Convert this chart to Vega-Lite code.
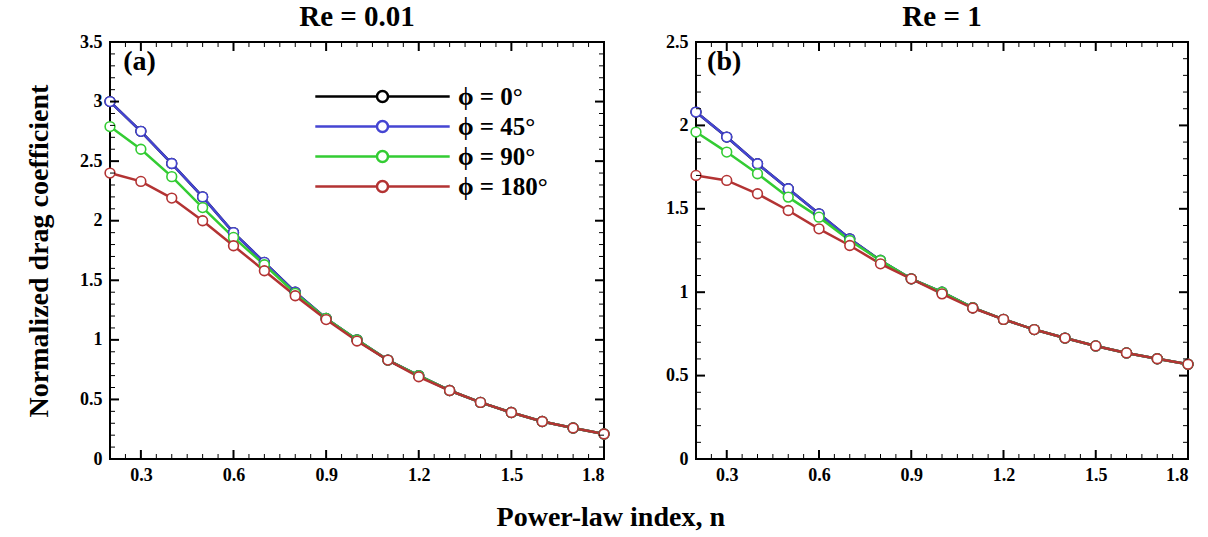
{
  "$schema": "https://vega.github.io/schema/vega-lite/v6.json",
  "background": "white",
  "padding": {"left": 24, "top": 2, "right": 10, "bottom": 5},
  "title": {"text": "Power-law index, n", "orient": "bottom", "anchor": "middle", "fontSize": 28, "font": "Liberation Serif", "fontWeight": "bold", "color": "black", "offset": 19},
  "spacing": 50,
  "resolve": {"scale": {"x": "independent", "y": "independent", "color": "independent", "stroke": "independent"}},
  "datasets": {
    "re001": [
      {"n": 0.2, "phi": "ϕ = 0°", "cd": 3.00}, {"n": 0.3, "phi": "ϕ = 0°", "cd": 2.75}, {"n": 0.4, "phi": "ϕ = 0°", "cd": 2.48}, {"n": 0.5, "phi": "ϕ = 0°", "cd": 2.20}, {"n": 0.6, "phi": "ϕ = 0°", "cd": 1.90}, {"n": 0.7, "phi": "ϕ = 0°", "cd": 1.65}, {"n": 0.8, "phi": "ϕ = 0°", "cd": 1.40}, {"n": 0.9, "phi": "ϕ = 0°", "cd": 1.18}, {"n": 1.0, "phi": "ϕ = 0°", "cd": 1.00}, {"n": 1.1, "phi": "ϕ = 0°", "cd": 0.83}, {"n": 1.2, "phi": "ϕ = 0°", "cd": 0.70}, {"n": 1.3, "phi": "ϕ = 0°", "cd": 0.575}, {"n": 1.4, "phi": "ϕ = 0°", "cd": 0.475}, {"n": 1.5, "phi": "ϕ = 0°", "cd": 0.39}, {"n": 1.6, "phi": "ϕ = 0°", "cd": 0.315}, {"n": 1.7, "phi": "ϕ = 0°", "cd": 0.26}, {"n": 1.8, "phi": "ϕ = 0°", "cd": 0.21},
      {"n": 0.2, "phi": "ϕ = 45°", "cd": 3.00}, {"n": 0.3, "phi": "ϕ = 45°", "cd": 2.75}, {"n": 0.4, "phi": "ϕ = 45°", "cd": 2.48}, {"n": 0.5, "phi": "ϕ = 45°", "cd": 2.20}, {"n": 0.6, "phi": "ϕ = 45°", "cd": 1.90}, {"n": 0.7, "phi": "ϕ = 45°", "cd": 1.65}, {"n": 0.8, "phi": "ϕ = 45°", "cd": 1.40}, {"n": 0.9, "phi": "ϕ = 45°", "cd": 1.18}, {"n": 1.0, "phi": "ϕ = 45°", "cd": 1.00}, {"n": 1.1, "phi": "ϕ = 45°", "cd": 0.83}, {"n": 1.2, "phi": "ϕ = 45°", "cd": 0.70}, {"n": 1.3, "phi": "ϕ = 45°", "cd": 0.575}, {"n": 1.4, "phi": "ϕ = 45°", "cd": 0.475}, {"n": 1.5, "phi": "ϕ = 45°", "cd": 0.39}, {"n": 1.6, "phi": "ϕ = 45°", "cd": 0.315}, {"n": 1.7, "phi": "ϕ = 45°", "cd": 0.26}, {"n": 1.8, "phi": "ϕ = 45°", "cd": 0.21},
      {"n": 0.2, "phi": "ϕ = 90°", "cd": 2.79}, {"n": 0.3, "phi": "ϕ = 90°", "cd": 2.60}, {"n": 0.4, "phi": "ϕ = 90°", "cd": 2.37}, {"n": 0.5, "phi": "ϕ = 90°", "cd": 2.11}, {"n": 0.6, "phi": "ϕ = 90°", "cd": 1.86}, {"n": 0.7, "phi": "ϕ = 90°", "cd": 1.63}, {"n": 0.8, "phi": "ϕ = 90°", "cd": 1.39}, {"n": 0.9, "phi": "ϕ = 90°", "cd": 1.18}, {"n": 1.0, "phi": "ϕ = 90°", "cd": 1.00}, {"n": 1.1, "phi": "ϕ = 90°", "cd": 0.83}, {"n": 1.2, "phi": "ϕ = 90°", "cd": 0.70}, {"n": 1.3, "phi": "ϕ = 90°", "cd": 0.575}, {"n": 1.4, "phi": "ϕ = 90°", "cd": 0.475}, {"n": 1.5, "phi": "ϕ = 90°", "cd": 0.39}, {"n": 1.6, "phi": "ϕ = 90°", "cd": 0.315}, {"n": 1.7, "phi": "ϕ = 90°", "cd": 0.26}, {"n": 1.8, "phi": "ϕ = 90°", "cd": 0.21},
      {"n": 0.2, "phi": "ϕ = 180°", "cd": 2.40}, {"n": 0.3, "phi": "ϕ = 180°", "cd": 2.33}, {"n": 0.4, "phi": "ϕ = 180°", "cd": 2.19}, {"n": 0.5, "phi": "ϕ = 180°", "cd": 2.00}, {"n": 0.6, "phi": "ϕ = 180°", "cd": 1.79}, {"n": 0.7, "phi": "ϕ = 180°", "cd": 1.58}, {"n": 0.8, "phi": "ϕ = 180°", "cd": 1.37}, {"n": 0.9, "phi": "ϕ = 180°", "cd": 1.17}, {"n": 1.0, "phi": "ϕ = 180°", "cd": 0.99}, {"n": 1.1, "phi": "ϕ = 180°", "cd": 0.83}, {"n": 1.2, "phi": "ϕ = 180°", "cd": 0.69}, {"n": 1.3, "phi": "ϕ = 180°", "cd": 0.575}, {"n": 1.4, "phi": "ϕ = 180°", "cd": 0.475}, {"n": 1.5, "phi": "ϕ = 180°", "cd": 0.39}, {"n": 1.6, "phi": "ϕ = 180°", "cd": 0.315}, {"n": 1.7, "phi": "ϕ = 180°", "cd": 0.26}, {"n": 1.8, "phi": "ϕ = 180°", "cd": 0.21}
    ],
    "re1": [
      {"n": 0.2, "phi": "ϕ = 0°", "cd": 2.08}, {"n": 0.3, "phi": "ϕ = 0°", "cd": 1.93}, {"n": 0.4, "phi": "ϕ = 0°", "cd": 1.77}, {"n": 0.5, "phi": "ϕ = 0°", "cd": 1.62}, {"n": 0.6, "phi": "ϕ = 0°", "cd": 1.47}, {"n": 0.7, "phi": "ϕ = 0°", "cd": 1.32}, {"n": 0.8, "phi": "ϕ = 0°", "cd": 1.19}, {"n": 0.9, "phi": "ϕ = 0°", "cd": 1.08}, {"n": 1.0, "phi": "ϕ = 0°", "cd": 1.00}, {"n": 1.1, "phi": "ϕ = 0°", "cd": 0.907}, {"n": 1.2, "phi": "ϕ = 0°", "cd": 0.837}, {"n": 1.3, "phi": "ϕ = 0°", "cd": 0.776}, {"n": 1.4, "phi": "ϕ = 0°", "cd": 0.725}, {"n": 1.5, "phi": "ϕ = 0°", "cd": 0.678}, {"n": 1.6, "phi": "ϕ = 0°", "cd": 0.636}, {"n": 1.7, "phi": "ϕ = 0°", "cd": 0.601}, {"n": 1.8, "phi": "ϕ = 0°", "cd": 0.568},
      {"n": 0.2, "phi": "ϕ = 45°", "cd": 2.08}, {"n": 0.3, "phi": "ϕ = 45°", "cd": 1.93}, {"n": 0.4, "phi": "ϕ = 45°", "cd": 1.77}, {"n": 0.5, "phi": "ϕ = 45°", "cd": 1.62}, {"n": 0.6, "phi": "ϕ = 45°", "cd": 1.47}, {"n": 0.7, "phi": "ϕ = 45°", "cd": 1.32}, {"n": 0.8, "phi": "ϕ = 45°", "cd": 1.19}, {"n": 0.9, "phi": "ϕ = 45°", "cd": 1.08}, {"n": 1.0, "phi": "ϕ = 45°", "cd": 1.00}, {"n": 1.1, "phi": "ϕ = 45°", "cd": 0.907}, {"n": 1.2, "phi": "ϕ = 45°", "cd": 0.837}, {"n": 1.3, "phi": "ϕ = 45°", "cd": 0.776}, {"n": 1.4, "phi": "ϕ = 45°", "cd": 0.725}, {"n": 1.5, "phi": "ϕ = 45°", "cd": 0.678}, {"n": 1.6, "phi": "ϕ = 45°", "cd": 0.636}, {"n": 1.7, "phi": "ϕ = 45°", "cd": 0.601}, {"n": 1.8, "phi": "ϕ = 45°", "cd": 0.568},
      {"n": 0.2, "phi": "ϕ = 90°", "cd": 1.96}, {"n": 0.3, "phi": "ϕ = 90°", "cd": 1.84}, {"n": 0.4, "phi": "ϕ = 90°", "cd": 1.71}, {"n": 0.5, "phi": "ϕ = 90°", "cd": 1.57}, {"n": 0.6, "phi": "ϕ = 90°", "cd": 1.45}, {"n": 0.7, "phi": "ϕ = 90°", "cd": 1.31}, {"n": 0.8, "phi": "ϕ = 90°", "cd": 1.19}, {"n": 0.9, "phi": "ϕ = 90°", "cd": 1.08}, {"n": 1.0, "phi": "ϕ = 90°", "cd": 1.00}, {"n": 1.1, "phi": "ϕ = 90°", "cd": 0.907}, {"n": 1.2, "phi": "ϕ = 90°", "cd": 0.837}, {"n": 1.3, "phi": "ϕ = 90°", "cd": 0.776}, {"n": 1.4, "phi": "ϕ = 90°", "cd": 0.725}, {"n": 1.5, "phi": "ϕ = 90°", "cd": 0.678}, {"n": 1.6, "phi": "ϕ = 90°", "cd": 0.636}, {"n": 1.7, "phi": "ϕ = 90°", "cd": 0.601}, {"n": 1.8, "phi": "ϕ = 90°", "cd": 0.568},
      {"n": 0.2, "phi": "ϕ = 180°", "cd": 1.70}, {"n": 0.3, "phi": "ϕ = 180°", "cd": 1.67}, {"n": 0.4, "phi": "ϕ = 180°", "cd": 1.59}, {"n": 0.5, "phi": "ϕ = 180°", "cd": 1.49}, {"n": 0.6, "phi": "ϕ = 180°", "cd": 1.38}, {"n": 0.7, "phi": "ϕ = 180°", "cd": 1.28}, {"n": 0.8, "phi": "ϕ = 180°", "cd": 1.17}, {"n": 0.9, "phi": "ϕ = 180°", "cd": 1.08}, {"n": 1.0, "phi": "ϕ = 180°", "cd": 0.99}, {"n": 1.1, "phi": "ϕ = 180°", "cd": 0.905}, {"n": 1.2, "phi": "ϕ = 180°", "cd": 0.837}, {"n": 1.3, "phi": "ϕ = 180°", "cd": 0.776}, {"n": 1.4, "phi": "ϕ = 180°", "cd": 0.725}, {"n": 1.5, "phi": "ϕ = 180°", "cd": 0.678}, {"n": 1.6, "phi": "ϕ = 180°", "cd": 0.636}, {"n": 1.7, "phi": "ϕ = 180°", "cd": 0.601}, {"n": 1.8, "phi": "ϕ = 180°", "cd": 0.568}
    ],
    "xt": [
      {"v": 0.2, "kind": "minor"}, {"v": 0.25, "kind": "minor"}, {"v": 0.3, "kind": "major"}, {"v": 0.35, "kind": "minor"}, {"v": 0.4, "kind": "minor"}, {"v": 0.45, "kind": "minor"}, {"v": 0.5, "kind": "minor"}, {"v": 0.55, "kind": "minor"}, {"v": 0.6, "kind": "major"}, {"v": 0.65, "kind": "minor"}, {"v": 0.7, "kind": "minor"}, {"v": 0.75, "kind": "minor"}, {"v": 0.8, "kind": "minor"}, {"v": 0.85, "kind": "minor"}, {"v": 0.9, "kind": "major"}, {"v": 0.95, "kind": "minor"}, {"v": 1.0, "kind": "minor"}, {"v": 1.05, "kind": "minor"}, {"v": 1.1, "kind": "minor"}, {"v": 1.15, "kind": "minor"}, {"v": 1.2, "kind": "major"}, {"v": 1.25, "kind": "minor"}, {"v": 1.3, "kind": "minor"}, {"v": 1.35, "kind": "minor"}, {"v": 1.4, "kind": "minor"}, {"v": 1.45, "kind": "minor"}, {"v": 1.5, "kind": "major"}, {"v": 1.55, "kind": "minor"}, {"v": 1.6, "kind": "minor"}, {"v": 1.65, "kind": "minor"}, {"v": 1.7, "kind": "minor"}, {"v": 1.75, "kind": "minor"}, {"v": 1.8, "kind": "major"}
    ],
    "ytl": [
      {"v": 0, "kind": "major"}, {"v": 0.1, "kind": "minor"}, {"v": 0.2, "kind": "minor"}, {"v": 0.3, "kind": "minor"}, {"v": 0.4, "kind": "minor"}, {"v": 0.5, "kind": "major"}, {"v": 0.6, "kind": "minor"}, {"v": 0.7, "kind": "minor"}, {"v": 0.8, "kind": "minor"}, {"v": 0.9, "kind": "minor"}, {"v": 1.0, "kind": "major"}, {"v": 1.1, "kind": "minor"}, {"v": 1.2, "kind": "minor"}, {"v": 1.3, "kind": "minor"}, {"v": 1.4, "kind": "minor"}, {"v": 1.5, "kind": "major"}, {"v": 1.6, "kind": "minor"}, {"v": 1.7, "kind": "minor"}, {"v": 1.8, "kind": "minor"}, {"v": 1.9, "kind": "minor"}, {"v": 2.0, "kind": "major"}, {"v": 2.1, "kind": "minor"}, {"v": 2.2, "kind": "minor"}, {"v": 2.3, "kind": "minor"}, {"v": 2.4, "kind": "minor"}, {"v": 2.5, "kind": "major"}, {"v": 2.6, "kind": "minor"}, {"v": 2.7, "kind": "minor"}, {"v": 2.8, "kind": "minor"}, {"v": 2.9, "kind": "minor"}, {"v": 3.0, "kind": "major"}, {"v": 3.1, "kind": "minor"}, {"v": 3.2, "kind": "minor"}, {"v": 3.3, "kind": "minor"}, {"v": 3.4, "kind": "minor"}, {"v": 3.5, "kind": "major"}
    ],
    "ytr": [
      {"v": 0, "kind": "major"}, {"v": 0.1, "kind": "minor"}, {"v": 0.2, "kind": "minor"}, {"v": 0.3, "kind": "minor"}, {"v": 0.4, "kind": "minor"}, {"v": 0.5, "kind": "major"}, {"v": 0.6, "kind": "minor"}, {"v": 0.7, "kind": "minor"}, {"v": 0.8, "kind": "minor"}, {"v": 0.9, "kind": "minor"}, {"v": 1.0, "kind": "major"}, {"v": 1.1, "kind": "minor"}, {"v": 1.2, "kind": "minor"}, {"v": 1.3, "kind": "minor"}, {"v": 1.4, "kind": "minor"}, {"v": 1.5, "kind": "major"}, {"v": 1.6, "kind": "minor"}, {"v": 1.7, "kind": "minor"}, {"v": 1.8, "kind": "minor"}, {"v": 1.9, "kind": "minor"}, {"v": 2.0, "kind": "major"}, {"v": 2.1, "kind": "minor"}, {"v": 2.2, "kind": "minor"}, {"v": 2.3, "kind": "minor"}, {"v": 2.4, "kind": "minor"}, {"v": 2.5, "kind": "major"}
    ]
  },
  "hconcat": [
    {
      "width": 494, "height": 417,
      "title": {"text": "Re = 0.01"},
      "resolve": {"axis": {"x": "independent", "y": "independent"}},
      "layer": [
        {
          "data": {"name": "re001"},
          "mark": {"type": "line", "strokeWidth": 2.5},
          "encoding": {
            "x": {"field": "n", "type": "quantitative", "scale": {"domain": [0.2, 1.8], "nice": false, "zero": false},
                  "axis": {"orient": "bottom", "values": [0.3, 0.6, 0.9, 1.2, 1.5, 1.8], "format": ".1f", "ticks": false, "labelPadding": 7, "title": null}},
            "y": {"field": "cd", "type": "quantitative", "scale": {"domain": [0, 3.5], "nice": false, "zero": true},
                  "axis": {"orient": "left", "values": [0, 0.5, 1, 1.5, 2, 2.5, 3, 3.5], "format": "~g", "ticks": false, "labelPadding": 8, "title": "Normalized drag coefficient", "titlePadding": 26}},
            "color": {"field": "phi", "type": "nominal",
                      "scale": {"domain": ["ϕ = 0°", "ϕ = 45°", "ϕ = 90°", "ϕ = 180°"], "range": ["#000000", "#4545d2", "#33cc33", "#b33333"]},
                      "legend": {"orient": "none", "legendX": 260, "legendY": 42, "title": null,
                                 "symbolType": "M-11.2,0H-0.92M0.92,0H11.2M0.92,0A0.92,0.92,0,1,1,-0.92,0A0.92,0.92,0,1,1,0.92,0Z",
                                 "symbolSize": 144, "symbolStrokeWidth": 2.5, "symbolFillColor": "white",
                                 "labelOffset": 63, "labelFontSize": 25, "labelFont": "Liberation Serif", "labelFontWeight": "bold", "labelColor": "black",
                                 "rowPadding": 4, "padding": 0}}
          }
        },
        {
          "data": {"name": "re001"},
          "mark": {"type": "point", "filled": true, "fill": "white", "opacity": 1, "size": 95, "strokeWidth": 1.6},
          "encoding": {
            "x": {"field": "n", "type": "quantitative", "axis": null},
            "y": {"field": "cd", "type": "quantitative", "axis": null},
            "stroke": {"field": "phi", "type": "nominal",
                       "scale": {"domain": ["ϕ = 0°", "ϕ = 45°", "ϕ = 90°", "ϕ = 180°"], "range": ["#000000", "#4545d2", "#33cc33", "#b33333"]},
                       "legend": null}
          }
        },
        {"data": {"name": "xt"}, "transform": [{"filter": "datum.kind == 'major'"}],
         "mark": {"type": "tick", "orient": "vertical", "thickness": 2, "size": 18, "clip": true, "color": "black", "opacity": 1},
         "encoding": {"x": {"field": "v", "type": "quantitative", "axis": null}, "y": {"datum": 0, "type": "quantitative", "axis": null}}},
        {"data": {"name": "xt"}, "transform": [{"filter": "datum.kind == 'major'"}],
         "mark": {"type": "tick", "orient": "vertical", "thickness": 2, "size": 18, "clip": true, "color": "black", "opacity": 1},
         "encoding": {"x": {"field": "v", "type": "quantitative", "axis": null}, "y": {"datum": 3.5, "type": "quantitative", "axis": null}}},
        {"data": {"name": "xt"}, "transform": [{"filter": "datum.kind == 'minor'"}],
         "mark": {"type": "tick", "orient": "vertical", "thickness": 1, "size": 10, "clip": true, "color": "black", "opacity": 1},
         "encoding": {"x": {"field": "v", "type": "quantitative", "axis": null}, "y": {"datum": 0, "type": "quantitative", "axis": null}}},
        {"data": {"name": "xt"}, "transform": [{"filter": "datum.kind == 'minor'"}],
         "mark": {"type": "tick", "orient": "vertical", "thickness": 1, "size": 10, "clip": true, "color": "black", "opacity": 1},
         "encoding": {"x": {"field": "v", "type": "quantitative", "axis": null}, "y": {"datum": 3.5, "type": "quantitative", "axis": null}}},
        {"data": {"name": "ytl"}, "transform": [{"filter": "datum.kind == 'major'"}],
         "mark": {"type": "tick", "orient": "horizontal", "thickness": 2, "size": 18, "clip": true, "color": "black", "opacity": 1},
         "encoding": {"y": {"field": "v", "type": "quantitative", "axis": null}, "x": {"datum": 0.2, "type": "quantitative", "axis": null}}},
        {"data": {"name": "ytl"}, "transform": [{"filter": "datum.kind == 'major'"}],
         "mark": {"type": "tick", "orient": "horizontal", "thickness": 2, "size": 18, "clip": true, "color": "black", "opacity": 1},
         "encoding": {"y": {"field": "v", "type": "quantitative", "axis": null}, "x": {"datum": 1.8, "type": "quantitative", "axis": null}}},
        {"data": {"name": "ytl"}, "transform": [{"filter": "datum.kind == 'minor'"}],
         "mark": {"type": "tick", "orient": "horizontal", "thickness": 1, "size": 10, "clip": true, "color": "black", "opacity": 1},
         "encoding": {"y": {"field": "v", "type": "quantitative", "axis": null}, "x": {"datum": 0.2, "type": "quantitative", "axis": null}}},
        {"data": {"name": "ytl"}, "transform": [{"filter": "datum.kind == 'minor'"}],
         "mark": {"type": "tick", "orient": "horizontal", "thickness": 1, "size": 10, "clip": true, "color": "black", "opacity": 1},
         "encoding": {"y": {"field": "v", "type": "quantitative", "axis": null}, "x": {"datum": 1.8, "type": "quantitative", "axis": null}}},
        {
          "data": {"values": [{"label": "(a)"}]},
          "mark": {"type": "text", "align": "left", "baseline": "middle", "font": "Liberation Serif", "fontWeight": "bold", "fontSize": 28, "fill": "black"},
          "encoding": {
            "text": {"field": "label"},
            "x": {"datum": 0.243, "type": "quantitative", "axis": null},
            "y": {"datum": 3.33, "type": "quantitative", "axis": null}
          }
        }
      ]
    },
    {
      "width": 492, "height": 417,
      "title": {"text": "Re = 1"},
      "resolve": {"axis": {"x": "independent", "y": "independent"}},
      "layer": [
        {
          "data": {"name": "re1"},
          "mark": {"type": "line", "strokeWidth": 2.5},
          "encoding": {
            "x": {"field": "n", "type": "quantitative", "scale": {"domain": [0.2, 1.8], "nice": false, "zero": false},
                  "axis": {"orient": "bottom", "values": [0.3, 0.6, 0.9, 1.2, 1.5, 1.8], "format": ".1f", "ticks": false, "labelPadding": 7, "title": null}},
            "y": {"field": "cd", "type": "quantitative", "scale": {"domain": [0, 2.5], "nice": false, "zero": true},
                  "axis": {"orient": "left", "values": [0, 0.5, 1, 1.5, 2, 2.5], "format": "~g", "ticks": false, "labelPadding": 8, "title": null}},
            "color": {"field": "phi", "type": "nominal",
                      "scale": {"domain": ["ϕ = 0°", "ϕ = 45°", "ϕ = 90°", "ϕ = 180°"], "range": ["#000000", "#4545d2", "#33cc33", "#b33333"]},
                      "legend": null}
          }
        },
        {
          "data": {"name": "re1"},
          "mark": {"type": "point", "filled": true, "fill": "white", "opacity": 1, "size": 95, "strokeWidth": 1.6},
          "encoding": {
            "x": {"field": "n", "type": "quantitative", "axis": null},
            "y": {"field": "cd", "type": "quantitative", "axis": null},
            "stroke": {"field": "phi", "type": "nominal",
                       "scale": {"domain": ["ϕ = 0°", "ϕ = 45°", "ϕ = 90°", "ϕ = 180°"], "range": ["#000000", "#4545d2", "#33cc33", "#b33333"]},
                       "legend": null}
          }
        },
        {"data": {"name": "xt"}, "transform": [{"filter": "datum.kind == 'major'"}],
         "mark": {"type": "tick", "orient": "vertical", "thickness": 2, "size": 18, "clip": true, "color": "black", "opacity": 1},
         "encoding": {"x": {"field": "v", "type": "quantitative", "axis": null}, "y": {"datum": 0, "type": "quantitative", "axis": null}}},
        {"data": {"name": "xt"}, "transform": [{"filter": "datum.kind == 'major'"}],
         "mark": {"type": "tick", "orient": "vertical", "thickness": 2, "size": 18, "clip": true, "color": "black", "opacity": 1},
         "encoding": {"x": {"field": "v", "type": "quantitative", "axis": null}, "y": {"datum": 2.5, "type": "quantitative", "axis": null}}},
        {"data": {"name": "xt"}, "transform": [{"filter": "datum.kind == 'minor'"}],
         "mark": {"type": "tick", "orient": "vertical", "thickness": 1, "size": 10, "clip": true, "color": "black", "opacity": 1},
         "encoding": {"x": {"field": "v", "type": "quantitative", "axis": null}, "y": {"datum": 0, "type": "quantitative", "axis": null}}},
        {"data": {"name": "xt"}, "transform": [{"filter": "datum.kind == 'minor'"}],
         "mark": {"type": "tick", "orient": "vertical", "thickness": 1, "size": 10, "clip": true, "color": "black", "opacity": 1},
         "encoding": {"x": {"field": "v", "type": "quantitative", "axis": null}, "y": {"datum": 2.5, "type": "quantitative", "axis": null}}},
        {"data": {"name": "ytr"}, "transform": [{"filter": "datum.kind == 'major'"}],
         "mark": {"type": "tick", "orient": "horizontal", "thickness": 2, "size": 18, "clip": true, "color": "black", "opacity": 1},
         "encoding": {"y": {"field": "v", "type": "quantitative", "axis": null}, "x": {"datum": 0.2, "type": "quantitative", "axis": null}}},
        {"data": {"name": "ytr"}, "transform": [{"filter": "datum.kind == 'major'"}],
         "mark": {"type": "tick", "orient": "horizontal", "thickness": 2, "size": 18, "clip": true, "color": "black", "opacity": 1},
         "encoding": {"y": {"field": "v", "type": "quantitative", "axis": null}, "x": {"datum": 1.8, "type": "quantitative", "axis": null}}},
        {"data": {"name": "ytr"}, "transform": [{"filter": "datum.kind == 'minor'"}],
         "mark": {"type": "tick", "orient": "horizontal", "thickness": 1, "size": 10, "clip": true, "color": "black", "opacity": 1},
         "encoding": {"y": {"field": "v", "type": "quantitative", "axis": null}, "x": {"datum": 0.2, "type": "quantitative", "axis": null}}},
        {"data": {"name": "ytr"}, "transform": [{"filter": "datum.kind == 'minor'"}],
         "mark": {"type": "tick", "orient": "horizontal", "thickness": 1, "size": 10, "clip": true, "color": "black", "opacity": 1},
         "encoding": {"y": {"field": "v", "type": "quantitative", "axis": null}, "x": {"datum": 1.8, "type": "quantitative", "axis": null}}},
        {
          "data": {"values": [{"label": "(b)"}]},
          "mark": {"type": "text", "align": "left", "baseline": "middle", "font": "Liberation Serif", "fontWeight": "bold", "fontSize": 28, "fill": "black"},
          "encoding": {
            "text": {"field": "label"},
            "x": {"datum": 0.236, "type": "quantitative", "axis": null},
            "y": {"datum": 2.38, "type": "quantitative", "axis": null}
          }
        }
      ]
    }
  ],
  "config": {
    "font": "Liberation Serif",
    "view": {"stroke": "black", "strokeWidth": 2},
    "axis": {"domain": false, "grid": false, "labelFont": "Liberation Serif", "labelFontWeight": "bold", "labelFontSize": 18, "labelColor": "black",
             "titleFont": "Liberation Serif", "titleFontWeight": "bold", "titleFontSize": 28, "titleColor": "black"},
    "title": {"font": "Liberation Serif", "fontWeight": "bold", "fontSize": 29, "color": "black", "offset": 1}
  }
}
